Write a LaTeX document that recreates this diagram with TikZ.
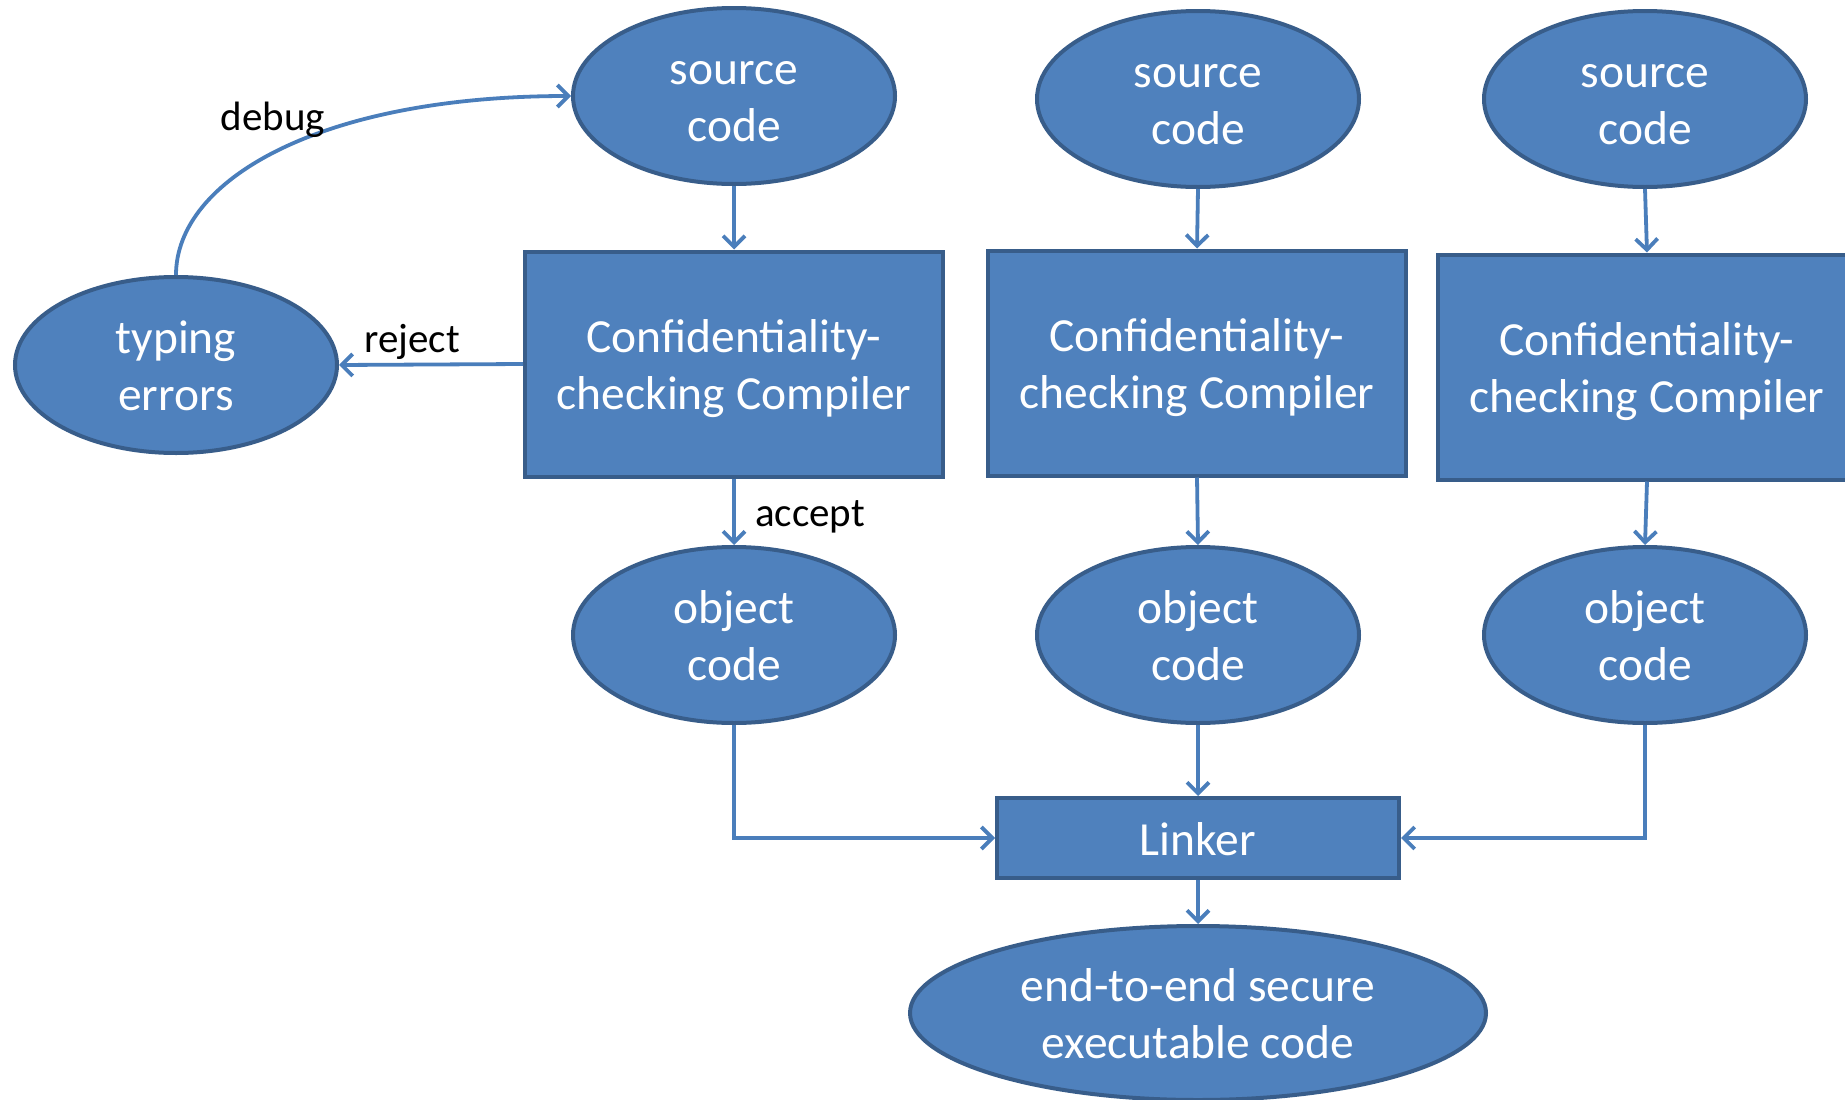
\documentclass[tikz,border=0pt]{standalone}
\usepackage{fontspec}
\setmainfont{Carlito}
\usetikzlibrary{shapes.geometric,arrows.meta}
\definecolor{boxfill}{HTML}{4F81BD}
\definecolor{boxedge}{HTML}{385D8A}
\definecolor{flow}{HTML}{4A7EBB}
% line strut so that text sits on fixed line boxes
\newcommand\linebox{\rule[-11pt]{0pt}{56pt}}
\tikzset{
  x=1pt, y=-1pt,
  blob/.style={ellipse, draw=boxedge, fill=boxfill, line width=4pt,
    minimum width=322pt, minimum height=176pt, inner sep=0pt,
    text=white, align=center, font=\fontsize{47.5}{56.5}\selectfont},
  stage/.style={rectangle, draw=boxedge, fill=boxfill, line width=4pt,
    minimum width=418pt, minimum height=225pt, inner sep=0pt,
    text=white, align=center, font=\fontsize{47.5}{56.5}\selectfont},
  flowarrow/.style={draw=flow, line width=3.8pt,
    -{Straight Barb[length=11pt, width=22pt, line width=3.8pt]}},
  tag/.style={text=black, font=\fontsize{41}{48}\selectfont, inner sep=0pt}
}
\begin{document}
\begin{tikzpicture}
\useasboundingbox (0,0) rectangle (1845,1100);
\clip (0,0) rectangle (1845,1100);

% first column: source, compiler, object
\node[blob]  (s1) at (734,96)   {\linebox source\\\linebox code};
\node[stage] (c1) at (734,364)  {\linebox Confidentiality-\\\linebox checking Compiler};
\node[blob]  (o1) at (734,635)  {\linebox object\\\linebox code};

% second column
\node[blob]  (s2) at (1198,99)  {\linebox source\\\linebox code};
\node[stage] (c2) at (1197,363) {\linebox Confidentiality-\\\linebox checking Compiler};
\node[blob]  (o2) at (1198,635) {\linebox object\\\linebox code};

% third column (compiler box runs past the right edge)
\node[blob]  (s3) at (1645,99)  {\linebox source\\\linebox code};
\node[stage] (c3) at (1647,367) {\linebox Confidentiality-\\\linebox checking Compiler};
\node[blob]  (o3) at (1645,635) {\linebox object\\\linebox code};

% rejected programs
\node[blob] (te) at (176,365) {\linebox typing\\\linebox errors};

% linking stage
\node[rectangle, draw=boxedge, fill=boxfill, line width=4pt,
      minimum width=402pt, minimum height=80pt, inner sep=0pt,
      text=white, font=\fontsize{47.5}{56.5}\selectfont] (lk) at (1198,838) {\linebox Linker};
\node[blob, minimum width=576pt, minimum height=174pt] (ex) at (1198,1013)
  {\linebox end-to-end secure\\\linebox executable code};

% connectors
\draw[flowarrow] (s1.south) -- (c1.north);
\draw[flowarrow] (s2.south) -- (c2.north);
\draw[flowarrow] (s3.south) -- (c3.north);
\draw[flowarrow] (c1.south) -- (o1.north);
\draw[flowarrow] (c2.south) -- (o2.north);
\draw[flowarrow] (c3.south) -- (o3.north);
\draw[flowarrow] (c1.west) -- (te.east);
\draw[flowarrow] (te.north) .. controls (176,180) and (320,96) .. (s1.west);
\draw[flowarrow] (o1.south) |- (lk.west);
\draw[flowarrow] (o2.south) -- (lk.north);
\draw[flowarrow] (o3.south) |- (lk.east);
\draw[flowarrow] (lk.south) -- (ex.north);

% connector labels
\node[tag] (ldebug)  at (273,120) {debug};
\node[tag] (lreject) at (412,342) {reject};
\node[tag] (laccept) at (810,517) {accept};
\end{tikzpicture}
\end{document}
